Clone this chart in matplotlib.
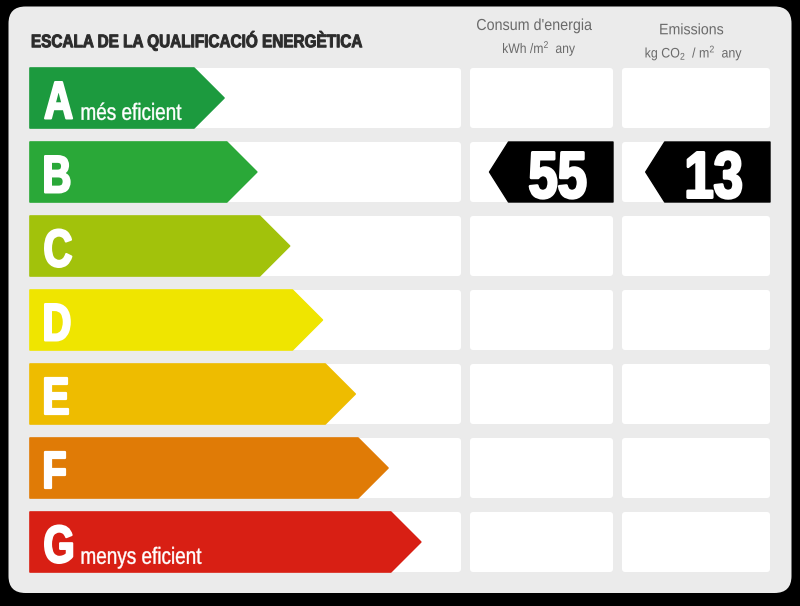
import matplotlib
matplotlib.use('Agg')
import matplotlib.pyplot as plt
import matplotlib.patches as patches
from matplotlib.textpath import TextPath
from matplotlib.font_manager import FontProperties
from matplotlib.transforms import Affine2D

# energy rating scale
ratings = ['A', 'B', 'C', 'D', 'E', 'F', 'G']
colors = ['#1c9a3e', '#2aa838', '#a2c20b', '#efe500', '#eebc00', '#e07b06', '#d81f14']
captions = {'A': 'més eficient', 'G': 'menys eficient'}

# building result
rated = 'B'
consum = 55
emissions = 13

title = 'ESCALA DE LA QUALIFICACIÓ ENERGÈTICA'
col_titles = ['Consum d\'energia', 'Emissions']
col_units = ['kWh /m$^2$  any', 'kg CO$_2$  / m$^2$  any']

plt.rcParams['mathtext.fontset'] = 'custom'
plt.rcParams['mathtext.rm'] = 'Liberation Sans'
plt.rcParams['mathtext.it'] = 'Liberation Sans:italic'
plt.rcParams['mathtext.bf'] = 'Liberation Sans:bold'


def rbox(ax, x0, y0, x1, y1, color, r=3, z=1):
    ax.add_patch(patches.FancyBboxPatch((x0, y0), x1 - x0, y1 - y0,
                 boxstyle='round,pad=0,rounding_size=%g' % r,
                 fc=color, ec='none', zorder=z))


def ctext(ax, s, x, base, cap, weight='normal', sx=0.8, width=None,
          ha='left', color='white', heavy=0, z=4):
    """condensed text drawn as a path: x/base in pixels, cap = cap height.
    heavy = extra outline in points, to thicken the strokes"""
    prop = FontProperties(family='Liberation Sans', weight=weight)
    tp = TextPath((0, 0), s, size=100, prop=prop)
    ext = tp.get_extents()
    caph = TextPath((0, 0), 'H', size=100, prop=prop).get_extents().height
    grow = heavy * 100 / 72.0  # stroke width in pixels
    k = (cap - grow) / caph
    kx = (width - grow) / ext.width if width else k * sx
    if ha == 'left':
        dx = -ext.x0 * kx + grow / 2
    elif ha == 'center':
        dx = -(ext.x0 + ext.width / 2) * kx
    else:
        dx = -ext.x1 * kx - grow / 2
    tr = Affine2D().scale(kx, -k).translate(x + dx, base - grow / 2)
    ax.add_patch(patches.PathPatch(tr.transform_path(tp), fc=color,
                                   ec=color if heavy else 'none', lw=heavy,
                                   joinstyle='round', zorder=z))


def main():
    fig = plt.figure(figsize=(8, 6.06), dpi=100)
    fig.patch.set_facecolor('black')
    ax = fig.add_axes([0, 0, 1, 1])
    ax.set_xlim(0, 800)
    ax.set_ylim(606, 0)
    ax.axis('off')

    # grey panel
    rbox(ax, 8.5, 6.5, 791.5, 593, '#ebebeb', r=17, z=0)

    ctext(ax, title, 31.5, 47.7, 13.5, weight='bold', width=331,
          color='#2b2b2b', heavy=0.7)
    gray = '#6a6a6a'
    ctext(ax, col_titles[0], 534.5, 30, 11, width=115, ha='center', color=gray)
    ctext(ax, col_units[0], 539, 53, 9.5, width=72, ha='center', color=gray)
    ctext(ax, col_titles[1], 691.7, 34.3, 10.5, width=63, ha='center', color=gray)
    ctext(ax, col_units[1], 693.5, 57.5, 9.5, width=96, ha='center', color=gray)

    h = 60
    pitch = 74
    for i, (r, c) in enumerate(zip(ratings, colors)):
        y0 = 68 + i * pitch
        y1 = y0 + h
        ym = (y0 + y1) / 2
        rbox(ax, 30, y0, 461, y1, 'white')
        rbox(ax, 470, y0, 613, y1, 'white')
        rbox(ax, 622, y0, 770, y1, 'white')

        tip = 224 + i * 32.8
        body = tip - 30
        ax.add_patch(patches.Polygon([(30, y0), (body, y0), (tip, ym),
                                      (body, y1), (30, y1)],
                                     closed=True, fc=c, ec=c, lw=1.2,
                                     joinstyle='round', zorder=2))
        ctext(ax, r, 44, y0 + 51.5, 38.5, weight='bold', sx=0.76, heavy=1.6)
        if r in captions:
            ctext(ax, captions[r], 81.5, y0 + 52, 16.5, sx=0.81, heavy=0.3)

        if r == rated:
            for x0, x1, val in [(489.5, 613, consum), (645.7, 770, emissions)]:
                ax.add_patch(patches.Polygon([(x1, y0), (x0 + 19, y0), (x0, ym),
                                              (x0 + 19, y1), (x1, y1)],
                                             closed=True, fc='black', ec='black',
                                             lw=1, joinstyle='round', zorder=2))
                ctext(ax, str(val), (x0 + 19 + x1) / 2 - 3, y0 + 57, 48,
                      weight='bold', sx=0.8, ha='center', heavy=2)

    fig.savefig('out.png', dpi=100, facecolor='black')


if __name__ == '__main__':
    main()
